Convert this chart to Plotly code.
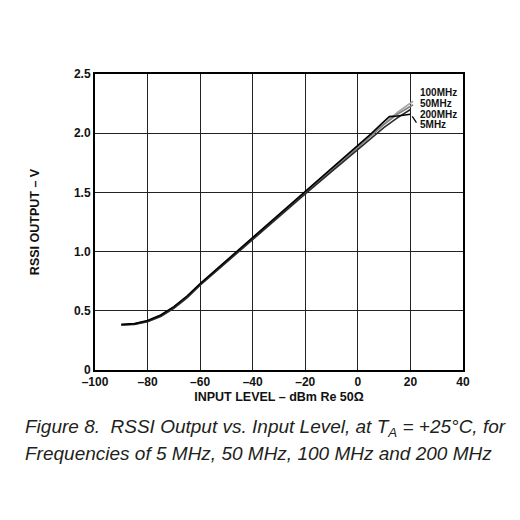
import plotly.graph_objects as go

# ---- data ----
x_5 = [-90, -85, -80, -75, -70, -65, -60, -50, -40, -30, -20, -10, 0, 5, 10, 12, 15, 20]
v_5 = [0.385, 0.392, 0.418, 0.465, 0.535, 0.625, 0.73, 0.925, 1.12, 1.315, 1.505, 1.70, 1.895, 1.995, 2.10, 2.14, 2.145, 2.16]

x_50 = [-90, -85, -80, -75, -70, -65, -60, -50, -40, -30, -20, -10, 0, 5, 10, 15, 21]
v_50 = [0.38, 0.388, 0.412, 0.458, 0.528, 0.618, 0.722, 0.918, 1.113, 1.308, 1.498, 1.688, 1.882, 1.978, 2.075, 2.16, 2.24]

x_100 = [-90, -85, -80, -75, -70, -65, -60, -50, -40, -30, -20, -10, 0, 5, 10, 15, 21]
v_100 = [0.38, 0.388, 0.413, 0.46, 0.53, 0.62, 0.724, 0.92, 1.115, 1.31, 1.50, 1.69, 1.885, 1.98, 2.08, 2.175, 2.27]

x_200 = [-90, -85, -80, -75, -70, -65, -60, -50, -40, -30, -20, -10, 0, 5, 10, 15, 20]
v_200 = [0.38, 0.385, 0.408, 0.452, 0.52, 0.61, 0.716, 0.91, 1.105, 1.298, 1.488, 1.675, 1.865, 1.96, 2.05, 2.13, 2.20]

x_ticks = [-100, -80, -60, -40, -20, 0, 20, 40]
x_ticktext = ["\u2013100", "\u201380", "\u201360", "\u201340", "\u201320", "0", "20", "40"]
y_ticks = [0, 0.5, 1.0, 1.5, 2.0, 2.5]
y_ticktext = ["0", "0.5", "1.0", "1.5", "2.0", "2.5"]

labels = ["100MHz", "50MHz", "200MHz", "5MHz"]
label_y = [2.34, 2.25, 2.16, 2.07]

FONT = "Liberation Sans, Arial, sans-serif"

fig = go.Figure()
series = [
    (x_100, v_100, "#a8a8a8", "100MHz"),
    (x_50, v_50, "#808080", "50MHz"),
    (x_200, v_200, "#2a2a2a", "200MHz"),
    (x_5, v_5, "#000000", "5MHz"),
]
for xs, vs, col, name in series:
    fig.add_trace(go.Scatter(x=xs, y=vs, mode="lines", name=name,
                             line=dict(color=col, width=1.6), showlegend=False))

for txt, yy in zip(labels, label_y):
    fig.add_annotation(x=23, y=yy, xref="x", yref="y", text=txt, showarrow=False,
                       xanchor="left", yanchor="middle",
                       font=dict(family=FONT, size=10, color="#111", weight="bold"))

# leader line for 5MHz label
fig.add_annotation(x=22.3, y=2.09, ax=20.3, ay=2.155, xref="x", yref="y", axref="x", ayref="y",
                   text="", showarrow=True, arrowhead=0, arrowwidth=1.2, arrowcolor="#000")

fig.add_annotation(x=-0.197, y=-0.197, xref="paper", yref="paper", xanchor="left", yanchor="middle",
                   text="<i>Figure 8.  RSSI Output vs. Input Level, at T<sub>A</sub> = +25\u00b0C, for</i>",
                   showarrow=False, align="left",
                   font=dict(family=FONT, size=19, color="#231f20"))
fig.add_annotation(x=-0.197, y=-0.281, xref="paper", yref="paper", xanchor="left", yanchor="middle",
                   text="<i>Frequencies of 5 MHz, 50 MHz, 100 MHz and 200 MHz</i>",
                   showarrow=False, align="left",
                   font=dict(family=FONT, size=19, color="#231f20"))

fig.update_layout(
    width=520, height=520,
    margin=dict(l=87, r=65, t=66, b=158),
    paper_bgcolor="white", plot_bgcolor="white",
    font=dict(family=FONT, color="#111"),
)
fig.update_xaxes(range=[-100, 40], tickvals=x_ticks, ticktext=x_ticktext,
                 showgrid=True, gridcolor="#222", gridwidth=1, zeroline=False,
                 showline=True, linecolor="#000", linewidth=2, mirror=True, ticks="",
                 tickfont=dict(family=FONT, size=12, weight="bold"),
                 title=dict(text="INPUT LEVEL \u2013 dBm Re 50\u03a9", standoff=4,
                            font=dict(family=FONT, size=12.5, weight="bold")))
fig.update_yaxes(range=[0, 2.5], tickvals=y_ticks, ticktext=y_ticktext,
                 showgrid=True, gridcolor="#222", gridwidth=1, zeroline=False,
                 showline=True, linecolor="#000", linewidth=2, mirror=True, ticks="",
                 tickfont=dict(family=FONT, size=12, weight="bold"),
                 title=dict(text="RSSI OUTPUT \u2013 V", standoff=32,
                            font=dict(family=FONT, size=12.5, weight="bold")))

fig.write_html("out.html")
